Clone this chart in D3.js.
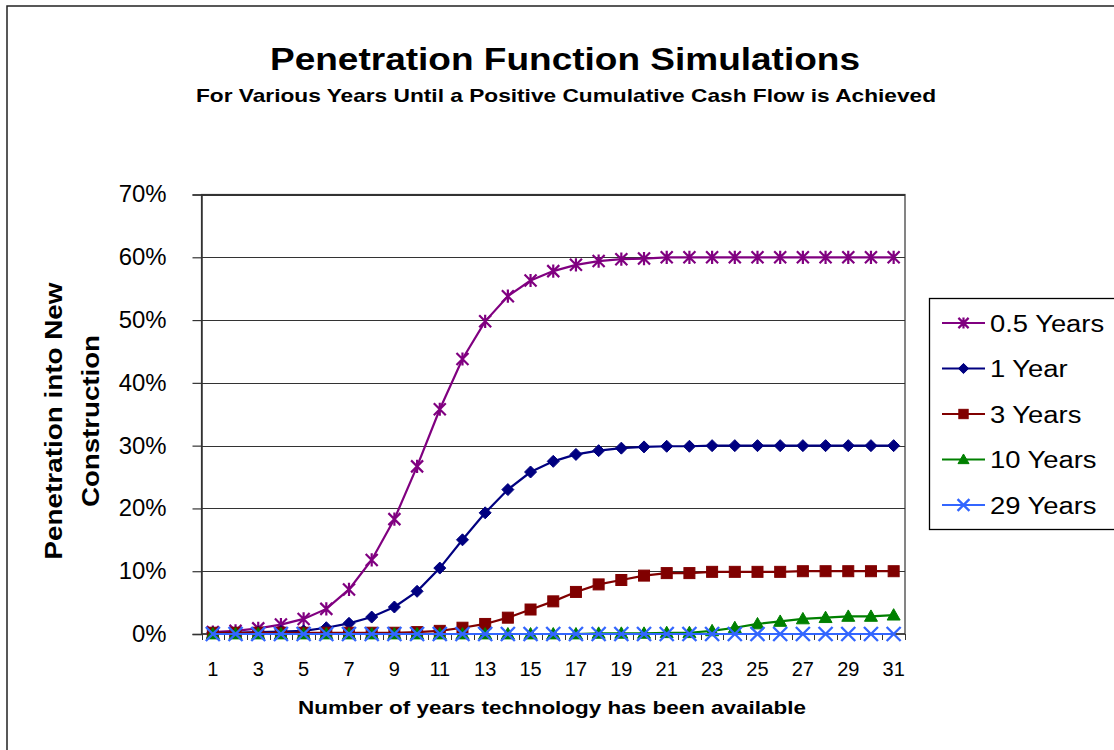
<!DOCTYPE html>
<html>
<head>
<meta charset="utf-8">
<script src="https://cdn.jsdelivr.net/npm/d3@7"></script>
<style>
  html, body { margin: 0; padding: 0; background: #fff; }
  svg { display: block; font-family: "Liberation Sans", Arial, sans-serif; }
</style>
</head>
<body>
<svg id="chart" width="1114" height="750"></svg>
<script>
// Years since the technology became available
const years = d3.range(1, 32);

// Penetration share (fraction) per payback period
const seriesNames = ["0.5 Years", "1 Year", "3 Years", "10 Years", "29 Years"];

const halfYear = [0.003, 0.005, 0.009, 0.015, 0.024, 0.040, 0.071, 0.118, 0.183, 0.267,
  0.358, 0.438, 0.498, 0.538, 0.563, 0.578, 0.588, 0.594, 0.597, 0.598,
  0.600, 0.600, 0.600, 0.600, 0.600, 0.600, 0.600, 0.600, 0.600, 0.600, 0.600];

const oneYear = [0.002, 0.002, 0.003, 0.004, 0.005, 0.010, 0.017, 0.027, 0.043, 0.068,
  0.105, 0.150, 0.193, 0.230, 0.258, 0.275, 0.286, 0.292, 0.296, 0.298,
  0.299, 0.299, 0.300, 0.300, 0.300, 0.300, 0.300, 0.300, 0.300, 0.300, 0.300];

const threeYears = [0.002, 0.002, 0.002, 0.002, 0.002, 0.002, 0.002, 0.002, 0.002, 0.003,
  0.005, 0.010, 0.016, 0.026, 0.039, 0.052, 0.067, 0.079, 0.086, 0.093,
  0.097, 0.097, 0.099, 0.099, 0.099, 0.099, 0.100, 0.100, 0.100, 0.100, 0.100];

const tenYears = [0.000, 0.000, 0.000, 0.000, 0.000, 0.000, 0.000, 0.000, 0.000, 0.000,
  0.000, 0.000, 0.000, 0.000, 0.000, 0.000, 0.000, 0.001, 0.001, 0.001,
  0.002, 0.002, 0.005, 0.010, 0.016, 0.020, 0.024, 0.026, 0.028, 0.028, 0.030];

const twentyNineYears = [0, 0, 0, 0, 0, 0, 0, 0, 0, 0,
  0, 0, 0, 0, 0, 0, 0, 0, 0, 0,
  0, 0, 0, 0, 0, 0, 0, 0, 0, 0, 0];

const yTicks = [0, 0.1, 0.2, 0.3, 0.4, 0.5, 0.6, 0.7];
const xTickLabels = years.filter(y => y % 2 === 1);

const seriesValues = [halfYear, oneYear, threeYears, tenYears, twentyNineYears];
const colors = ["#800080", "#000080", "#800000", "#008000", "#3366FF"];
const markers = ["star", "diamond", "square", "triangle", "cross"];

const svg = d3.select("#chart");

// Widen text runs so the sans face sets as broadly as the original typesetting
function widen(sel, factor) {
  sel.each(function () {
    const w = this.getComputedTextLength();
    d3.select(this)
      .attr("textLength", w * factor)
      .attr("lengthAdjust", "spacingAndGlyphs");
  });
  return sel;
}

// Chart frame
svg.append("rect")
  .attr("x", 7).attr("y", 6)
  .attr("width", 1120).attr("height", 760)
  .attr("fill", "#fff").attr("stroke", "#222").attr("stroke-width", 1.5);

const plot = { left: 201.5, top: 194.5, right: 905, bottom: 634 };

const x = d3.scaleBand()
  .domain(years)
  .range([plot.left, plot.right])
  .padding(0);

const y = d3.scaleLinear()
  .domain([0, 0.7])
  .range([plot.bottom, plot.top]);

const cx = d => x(d) + x.bandwidth() / 2;

// Titles
svg.append("text")
  .attr("x", 565).attr("y", 70)
  .attr("text-anchor", "middle")
  .attr("font-size", 32).attr("font-weight", "bold")
  .attr("textLength", 590).attr("lengthAdjust", "spacingAndGlyphs")
  .text("Penetration Function Simulations");

svg.append("text")
  .attr("x", 566).attr("y", 102)
  .attr("text-anchor", "middle")
  .attr("font-size", 18.5).attr("font-weight", "bold")
  .attr("textLength", 740).attr("lengthAdjust", "spacingAndGlyphs")
  .text("For Various Years Until a Positive Cumulative Cash Flow is Achieved");

// Gridlines
svg.append("g")
  .selectAll("line")
  .data(yTicks.filter(t => t > 0))
  .join("line")
  .attr("x1", plot.left).attr("x2", plot.right)
  .attr("y1", d => Math.round(y(d)) + 0.5)
  .attr("y2", d => Math.round(y(d)) + 0.5)
  .attr("stroke", "#333").attr("stroke-width", 1.2);

// Plot border
svg.append("rect")
  .attr("x", plot.left).attr("y", plot.top)
  .attr("width", plot.right - plot.left)
  .attr("height", plot.bottom - plot.top)
  .attr("fill", "none").attr("stroke", "#333").attr("stroke-width", 1.2);

// Y axis
const yAxis = d3.axisLeft(y)
  .tickValues(yTicks)
  .tickFormat(d3.format(".0%"))
  .tickSize(9)
  .tickPadding(26);

const gy = svg.append("g")
  .attr("transform", `translate(${plot.left},0)`)
  .call(yAxis);
gy.select(".domain").attr("stroke", "#333").attr("stroke-width", 1.5);
gy.selectAll(".tick line").attr("stroke", "#333").attr("stroke-width", 1.2);
gy.selectAll(".tick text")
  .attr("font-size", 23).attr("fill", "#000")
  .attr("font-family", "Liberation Sans, Arial, sans-serif");
widen(gy.selectAll(".tick text"), 1.04);

// X axis: ticks between categories, labels on odd years
const boundaries = years.map(d => x(d)).concat([plot.right]);
const gx = svg.append("g");
gx.append("line")
  .attr("x1", plot.left).attr("x2", plot.right)
  .attr("y1", plot.bottom).attr("y2", plot.bottom)
  .attr("stroke", "#333").attr("stroke-width", 1.5);
gx.selectAll("line.tk")
  .data(boundaries)
  .join("line")
  .attr("class", "tk")
  .attr("x1", d => Math.round(d) + 0.5).attr("x2", d => Math.round(d) + 0.5)
  .attr("y1", plot.bottom).attr("y2", plot.bottom + 6)
  .attr("stroke", "#333").attr("stroke-width", 1);
gx.selectAll("text")
  .data(xTickLabels)
  .join("text")
  .attr("x", d => cx(d))
  .attr("y", 676)
  .attr("text-anchor", "middle")
  .attr("font-size", 20)
  .text(d => d);

// Axis titles
svg.append("text")
  .attr("x", 552).attr("y", 714)
  .attr("text-anchor", "middle")
  .attr("font-size", 18).attr("font-weight", "bold")
  .attr("textLength", 508).attr("lengthAdjust", "spacingAndGlyphs")
  .text("Number of years technology has been available");

const yTitle = svg.append("text")
  .attr("transform", "translate(0,421) rotate(-90)")
  .attr("text-anchor", "middle")
  .attr("font-size", 24).attr("font-weight", "bold");
yTitle.append("tspan").attr("x", 0).attr("y", 62)
  .attr("textLength", 277).attr("lengthAdjust", "spacingAndGlyphs")
  .text("Penetration into New");
yTitle.append("tspan").attr("x", 0).attr("y", 99)
  .attr("textLength", 172).attr("lengthAdjust", "spacingAndGlyphs")
  .text("Construction");

// Marker drawing
function drawMarker(g, type, color, px, py, scale) {
  const s = scale || 1;
  if (type === "star") {
    const r = 6 * s;
    g.append("path")
      .attr("d", `M${px - r},${py - r}L${px + r},${py + r}M${px - r},${py + r}L${px + r},${py - r}M${px},${py - r * 1.1}L${px},${py + r * 1.1}`)
      .attr("stroke", color).attr("stroke-width", 2.2).attr("fill", "none");
  } else if (type === "diamond") {
    const r = 6 * s;
    g.append("path")
      .attr("d", `M${px},${py - r}L${px + r},${py}L${px},${py + r}L${px - r},${py}Z`)
      .attr("fill", color).attr("stroke", color).attr("stroke-width", 1);
  } else if (type === "square") {
    const r = 5.5 * s;
    g.append("rect")
      .attr("x", px - r).attr("y", py - r)
      .attr("width", 2 * r).attr("height", 2 * r)
      .attr("fill", color).attr("stroke", color).attr("stroke-width", 1);
  } else if (type === "triangle") {
    const r = 6.5 * s;
    g.append("path")
      .attr("d", `M${px},${py - r}L${px + r},${py + r * 0.75}L${px - r},${py + r * 0.75}Z`)
      .attr("fill", color).attr("stroke", color).attr("stroke-width", 1);
  } else if (type === "cross") {
    const r = 7 * s;
    g.append("path")
      .attr("d", `M${px - r},${py - r}L${px + r},${py + r}M${px - r},${py + r}L${px + r},${py - r}`)
      .attr("stroke", color).attr("stroke-width", 2.4).attr("fill", "none");
  }
}

// Series lines and markers
const line = d3.line()
  .x((d, i) => cx(years[i]))
  .y(d => y(d));

seriesValues.forEach((vals, si) => {
  const g = svg.append("g");
  g.append("path")
    .datum(vals)
    .attr("d", line)
    .attr("fill", "none")
    .attr("stroke", colors[si])
    .attr("stroke-width", 2.2);
  vals.forEach((v, i) => drawMarker(g, markers[si], colors[si], cx(years[i]), y(v), 1));
});

// Legend
const legend = svg.append("g");
legend.append("rect")
  .attr("x", 929.5).attr("y", 298.5)
  .attr("width", 200).attr("height", 231)
  .attr("fill", "#fff").attr("stroke", "#000").attr("stroke-width", 1.3);

const legendY = d3.scalePoint()
  .domain(seriesNames)
  .range([323, 505]);

seriesNames.forEach((name, si) => {
  const ly = legendY(name);
  legend.append("line")
    .attr("x1", 942).attr("x2", 985)
    .attr("y1", ly).attr("y2", ly)
    .attr("stroke", colors[si]).attr("stroke-width", 2);
  drawMarker(legend, markers[si], colors[si], 963.5, ly, 0.85);
  const t = legend.append("text")
    .attr("x", 990).attr("y", ly + 8.5)
    .attr("font-size", 23)
    .text(name);
  widen(t, 1.19);
});
</script>
</body>
</html>
